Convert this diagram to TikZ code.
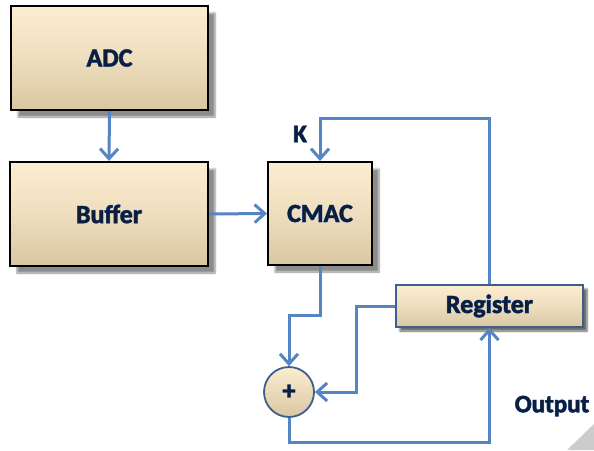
\documentclass[tikz,border=0pt]{standalone}
\usepackage{xcolor}
\usepackage{tikz}
\usetikzlibrary{arrows.meta,backgrounds,calc,shadows.blur}
\usetikzlibrary{positioning}
\usepackage{fontspec}
\setmainfont{Carlito}[BoldFeatures={FakeBold=0.6}]
\newfontfamily\glowfont{Carlito}[BoldFeatures={FakeBold=3.5}]
\definecolor{boxtop}{HTML}{FDEDD0}
\definecolor{boxbot}{HTML}{D9C7A2}
\definecolor{wire}{HTML}{5585C2}
\definecolor{navy}{HTML}{0C1E3C}
\definecolor{glow}{HTML}{5B82B8}
\definecolor{regline}{HTML}{3D5F8C}
\newcommand\glowtxt[1]{\makebox[0pt][l]{\glowfont\bfseries\color{glow}#1}{\bfseries\color{navy}#1}}

\begin{document}
\begin{tikzpicture}[x=1pt,y=-1pt,
  blk/.style={draw=black,line width=2.2pt,top color=boxtop,bottom color=boxbot,
    middle color=boxtop!60!boxbot,
    blur shadow={shadow xshift=7pt,shadow yshift=-7pt,shadow blur steps=6,shadow opacity=45},
    font=\fontsize{26}{30}\selectfont,inner sep=0pt},
  regbox/.style={blk,draw=regline,line width=1.6pt,
    blur shadow={shadow xshift=4pt,shadow yshift=-4pt,shadow blur steps=4,shadow opacity=35}},
  wirearrow/.style={draw=wire,line width=3pt,-{Straight Barb[length=10pt,width=18pt,line width=3pt]}},
  lbl/.style={font=\fontsize{25}{28}\selectfont}]
\useasboundingbox (0,0) rectangle (594,450);
\fill[gray!40] (594,424) -- (594,450) -- (567,450) -- cycle;

\node[blk,minimum width=197pt,minimum height=104pt] (adc) at (109.5,58) {\glowtxt{ADC}};
\node[blk,minimum width=198pt,minimum height=104pt] (buf) at (109,214) {\glowtxt{Buffer}};
\node[blk,minimum width=104pt,minimum height=103pt] (cmac) at (320,213.5) {\glowtxt{CMAC}};
\node[regbox,minimum width=187pt,minimum height=42pt] (reg) at (489.5,306) {\glowtxt{Register}};
\node[circle,draw=regline,line width=1.8pt,top color=boxtop,bottom color=boxbot,
  minimum size=50pt,inner sep=0pt,font=\fontsize{26}{30}\selectfont] (sum) at (289,392) {\glowtxt{+}};

\coordinate (ktop) at (320,118);
\coordinate (cdown) at (320,315);
\coordinate (rleft) at (356,392);
\coordinate (sdown) at (289,442);

\draw[wirearrow] (adc.south) -- (buf.north);
\draw[wirearrow] (buf.east) -- (cmac.west);
\draw[wirearrow] (reg.north) |- (ktop) -- (cmac.north);
\draw[wirearrow] (cmac.south) -- (cdown) -| (sum.north);
\draw[wirearrow] (reg.west) -| (rleft) -- (sum.east);
\draw[wirearrow] (sum.south) -- (sdown) -| (reg.south);

\node[lbl] (klbl) at (300,134) {\glowtxt{K}};
\node[lbl] (out) at (552,406) {\glowtxt{Output}};
\end{tikzpicture}
\end{document}
